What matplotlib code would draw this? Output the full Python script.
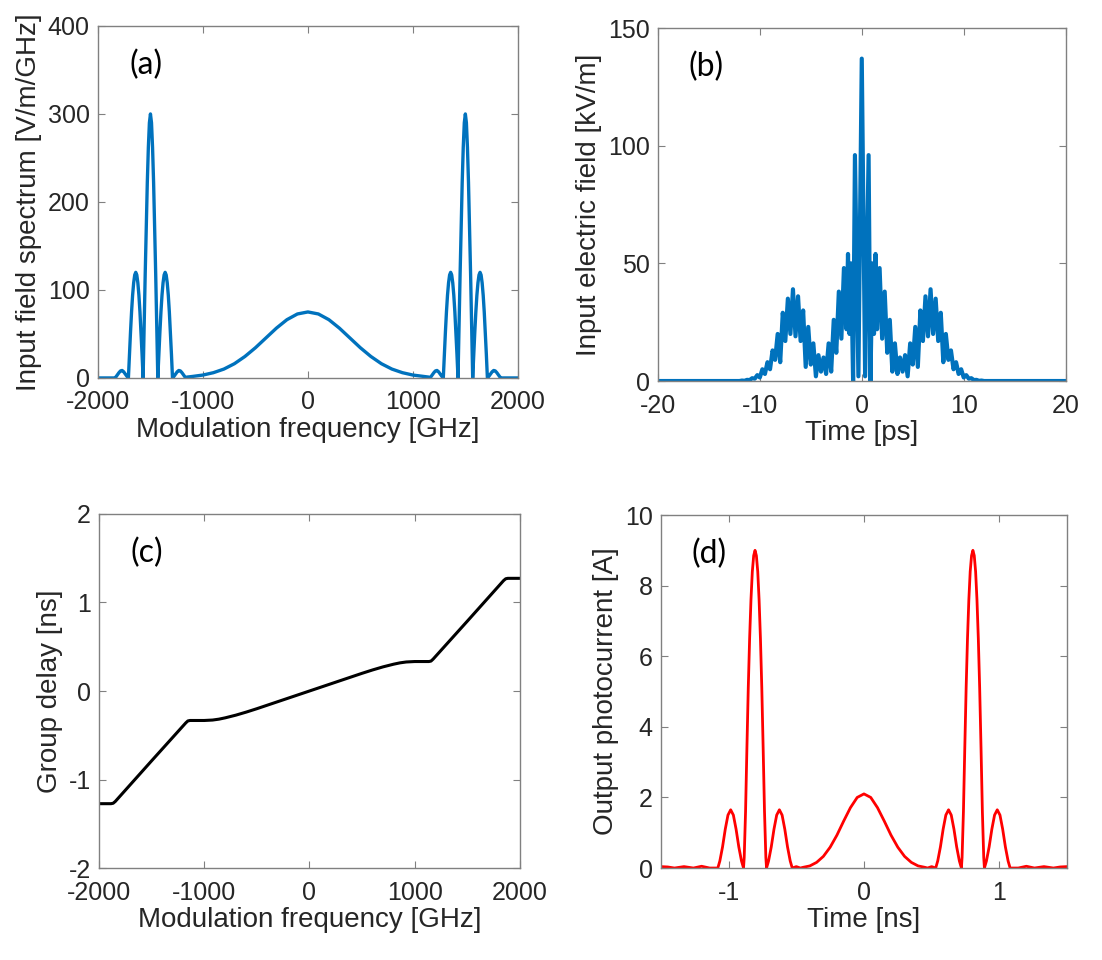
import numpy as np
import matplotlib.pyplot as plt

plt.rcParams['font.family'] = ['Liberation Sans', 'DejaVu Sans']
plt.rcParams['axes.unicode_minus'] = False

BLUE = '#0072BD'
AXCOL = '#808080'
TXT = '#262626'

# ---- (a) input field spectrum, one lobe group read at offsets from its centre
a_centres = [-1500, 1500]
a_lobe_df = [0, 10, 20, 30, 40, 50, 60, 70, 80, 90, 100, 110, 120, 130, 140, 150,
             160, 170, 180, 190, 200, 210, 225, 240, 255, 270, 285, 300, 315, 330, 345]
a_lobe_amp = [300, 290, 262, 222, 172, 118, 60, 0, 27, 52, 75, 94, 108, 117, 120, 117,
              108, 94, 75, 52, 27, 0, 2, 4.5, 7, 8.5, 8, 6, 3.5, 1, 0]
a_mid_f = [-1150, -1100, -1000, -900, -800, -700, -600, -500, -400, -300, -200, -100, 0,
           100, 200, 300, 400, 500, 600, 700, 800, 900, 1000, 1100, 1150]
a_mid_amp = [1.0, 1.7, 3.3, 6, 10.1, 16.2, 24.4, 34.3, 45.5, 56.6, 66.2, 72.7, 75,
             72.7, 66.2, 56.6, 45.5, 34.3, 24.4, 16.2, 10.1, 6, 3.3, 1.7, 1.0]

# ---- (b) input electric field, alternating peaks / troughs (t >= 0, mirrored)
b_t = [0, 0.33, 0.67, 0.85, 1.05, 1.2, 1.35, 1.5, 1.75, 2.0, 2.25, 2.5, 2.75, 3.0,
       3.25, 3.5, 3.75, 4.0, 4.25, 4.5, 4.75, 5.0, 5.25, 5.5, 5.75, 6.0, 6.25, 6.5,
       6.75, 7.0, 7.25, 7.5, 7.75, 8.0, 8.25, 8.5, 8.75, 9.0, 9.25, 9.5, 9.75, 10.0,
       10.25, 10.5, 10.75, 11.0, 11.25, 11.5, 11.75, 12.0, 20.0]
b_e = [137, 2, 96, 0, 50, 20, 54, 22, 48, 18, 38, 12, 26, 4,
       16, 3, 10, 4, 11, 2, 16, 7, 23, 6, 30, 17, 36, 19,
       39, 20, 35, 17, 29, 8, 20, 9, 13, 5, 8, 3, 5, 1.5,
       2.5, 1, 1.2, 0.4, 0.5, 0.1, 0.2, 0, 0]

# ---- (c) group delay
c_f = [-2000, -1885, -1865, -1845, -1500, -1175, -1155, -1135, -1000, -920, -860, -800,
       -700, -600, -500, -400, -300, -200, -100, 0, 100, 200, 300, 400, 500, 600, 700,
       800, 860, 920, 1000, 1135, 1155, 1175, 1500, 1845, 1865, 1885, 2000]
c_gd = [-1.273, -1.273, -1.268, -1.248, -0.789, -0.36, -0.338, -0.333, -0.333, -0.328,
        -0.318, -0.303, -0.273, -0.238, -0.2, -0.16, -0.12, -0.08, -0.04, 0, 0.04, 0.08,
        0.12, 0.16, 0.2, 0.238, 0.273, 0.303, 0.318, 0.328, 0.333, 0.333, 0.338, 0.36,
        0.789, 1.248, 1.268, 1.273, 1.273]

# ---- (d) output photocurrent
d_main_centres = [-0.805, 0.805]
d_main_dt = [0, 0.01, 0.02, 0.03, 0.04, 0.05, 0.06, 0.07, 0.08, 0.085]
d_main_amp = [9.0, 8.85, 8.4, 7.6, 6.5, 5.1, 3.4, 1.6, 0.3, 0]
d_side_centres = [-0.985, -0.625, 0.625, 0.985]
d_side_dt = [0, 0.02, 0.04, 0.06, 0.08, 0.095]
d_side_amp = [1.65, 1.5, 1.1, 0.6, 0.2, 0]
d_mid_t = [-0.53, -0.5, -0.47, -0.45, -0.4, -0.35, -0.3, -0.25, -0.2, -0.15, -0.1, -0.05, 0,
           0.05, 0.1, 0.15, 0.2, 0.25, 0.3, 0.35, 0.4, 0.45, 0.47, 0.5, 0.53]
d_mid_i = [0, 0.04, 0, 0.02, 0.06, 0.16, 0.33, 0.59, 0.93, 1.33, 1.71, 2.0, 2.1,
           2.0, 1.71, 1.33, 0.93, 0.59, 0.33, 0.16, 0.06, 0.02, 0, 0.04, 0]
d_tail_t = [1.08, 1.14, 1.2, 1.26, 1.33, 1.4, 1.45, 1.5]
d_tail_i = [0, 0, 0.05, 0, 0.04, 0, 0.03, 0.04]


def mirror(x, y):
    x = np.asarray(x, float)
    y = np.asarray(y, float)
    return np.concatenate([-x[::-1], x[1:]]), np.concatenate([y[::-1], y[1:]])


def style(ax, xlim, ylim, xticks, yticks, xlabel, ylabel, tag):
    ax.set_xlim(xlim)
    ax.set_ylim(ylim)
    ax.set_xticks(xticks)
    ax.set_yticks(yticks)
    ax.tick_params(direction='in', top=True, right=True, length=5, width=0.8,
                   colors=AXCOL, labelcolor=TXT, labelsize=18)
    ax.tick_params(axis='x', pad=9)
    ax.tick_params(axis='y', pad=6)
    for s in ax.spines.values():
        s.set_color(AXCOL)
        s.set_linewidth(1.0)
    ax.set_xlabel(xlabel, fontsize=20, color=TXT, labelpad=2)
    ax.set_ylabel(ylabel, fontsize=20, color=TXT, labelpad=4)
    ax.text(0.075, 0.89, tag, transform=ax.transAxes, fontsize=23,
            family=['Lato', 'DejaVu Sans'], va='center', ha='left', color='black')


fig = plt.figure(figsize=(11.02, 9.6), dpi=100)

# (a)
ax = fig.add_axes([0.0889, 0.6063, 0.381, 0.3667])
lx, ly = mirror(a_lobe_df, a_lobe_amp)
xa = np.concatenate([[-2000], a_centres[0] + lx, a_mid_f, a_centres[1] + lx, [2000]])
ya = np.concatenate([[0], ly, a_mid_amp, ly, [0]])
ax.plot(xa, ya, color=BLUE, lw=2.4)
style(ax, (-2000, 2000), (0, 400), [-2000, -1000, 0, 1000, 2000], [0, 100, 200, 300, 400],
      'Modulation frequency [GHz]', 'Input field spectrum [V/m/GHz]', '(a)')

# (b)
ax = fig.add_axes([0.597, 0.6031, 0.370, 0.3677])
tb, eb = mirror(b_t, b_e)
ax.plot(tb, eb, color=BLUE, lw=3.0)
style(ax, (-20, 20), (0, 150), [-20, -10, 0, 10, 20], [0, 50, 100, 150],
      'Time [ps]', 'Input electric field [kV/m]', '(b)')

# (c)
ax = fig.add_axes([0.0898, 0.0958, 0.382, 0.3688])
ax.plot(c_f, c_gd, color='black', lw=2.2)
style(ax, (-2000, 2000), (-2, 2), [-2000, -1000, 0, 1000, 2000], [-2, -1, 0, 1, 2],
      'Modulation frequency [GHz]', 'Group delay [ns]', '(c)')

# (d)
ax = fig.add_axes([0.5998, 0.0958, 0.3684, 0.3677])
mx, my = mirror(d_main_dt, d_main_amp)
sx, sy = mirror(d_side_dt, d_side_amp)
left_tail = (-np.asarray(d_tail_t)[::-1], np.asarray(d_tail_i)[::-1])
xd = np.concatenate([left_tail[0], d_side_centres[0] + sx, d_main_centres[0] + mx,
                     d_side_centres[1] + sx, d_mid_t, d_side_centres[2] + sx,
                     d_main_centres[1] + mx, d_side_centres[3] + sx, d_tail_t])
yd = np.concatenate([left_tail[1], sy, my, sy, d_mid_i, sy, my, sy, d_tail_i])
ax.plot(xd, yd, color='red', lw=2.0)
style(ax, (-1.5, 1.5), (0, 10), [-1, 0, 1], [0, 2, 4, 6, 8, 10],
      'Time [ns]', 'Output photocurrent [A]', '(d)')

fig.savefig('out.png', dpi=100)
